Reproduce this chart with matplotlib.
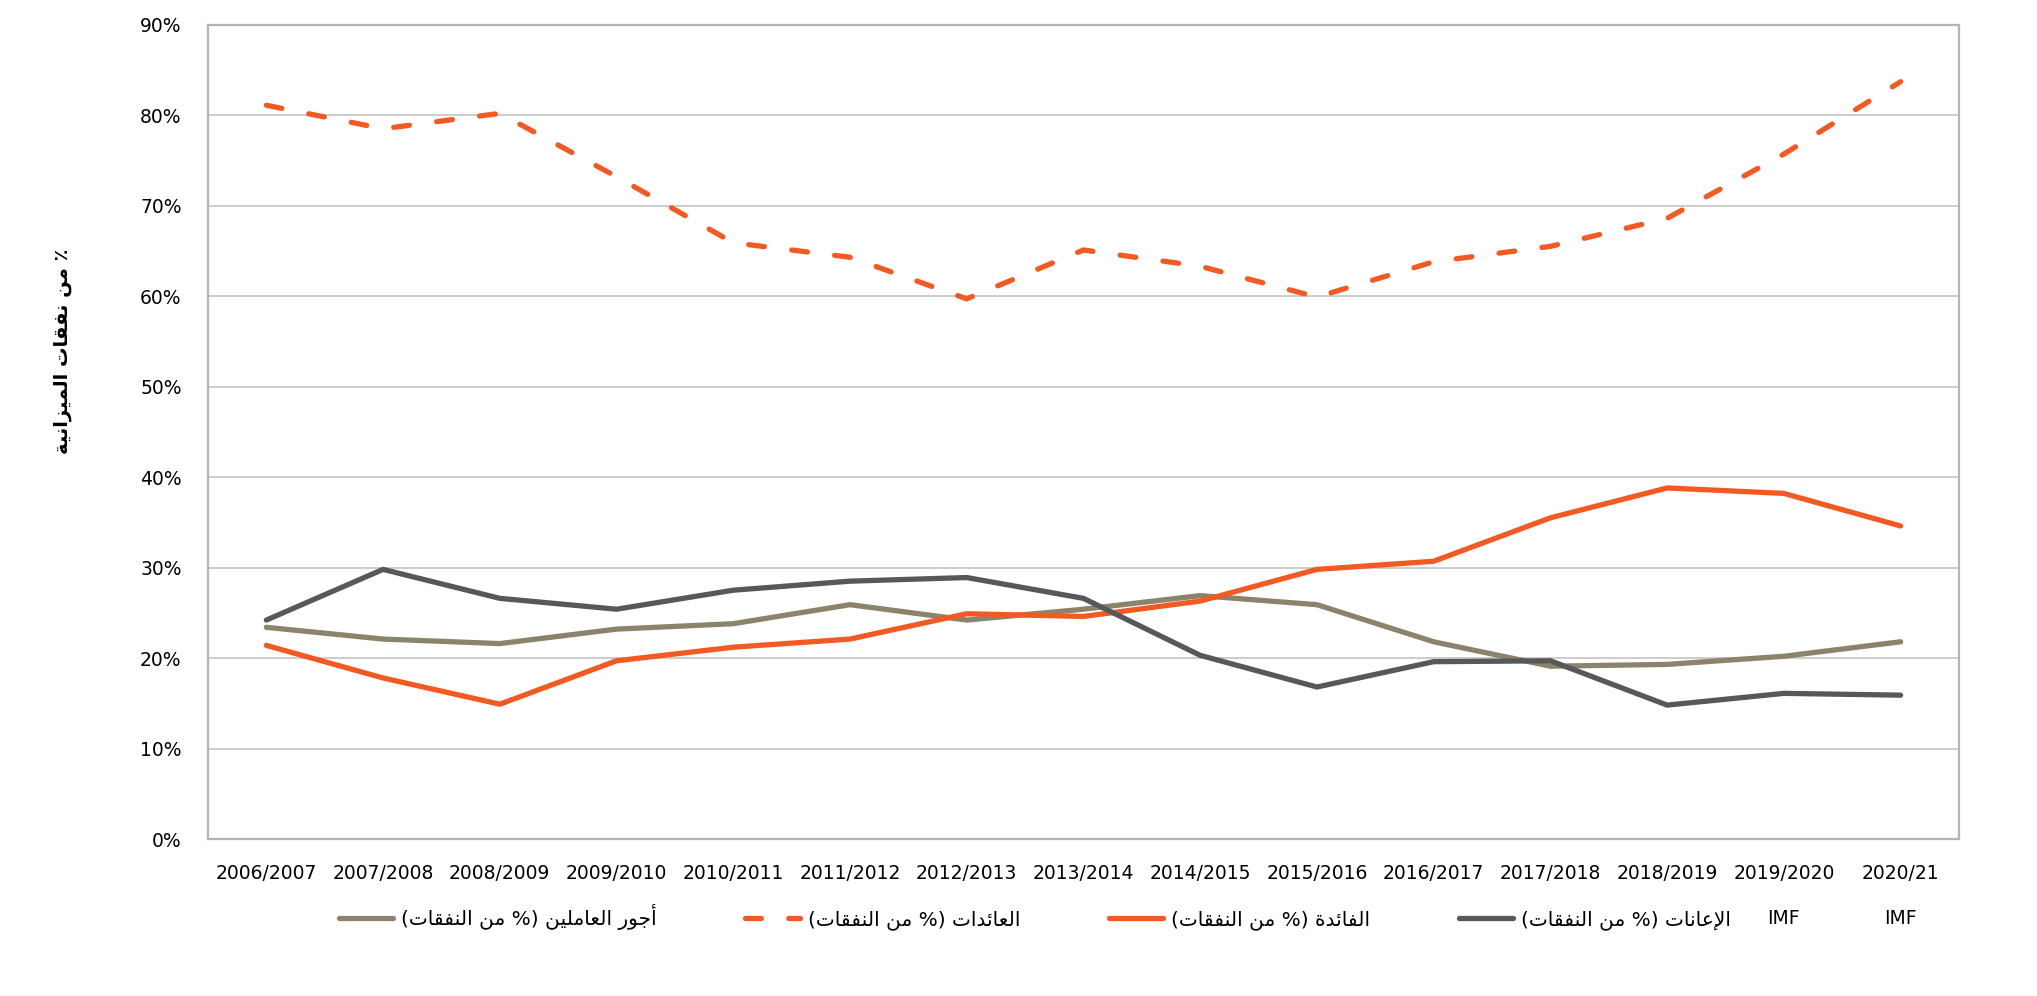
import matplotlib
matplotlib.use('Agg')
import matplotlib.pyplot as plt
import numpy as np

years = ['2006/2007', '2007/2008', '2008/2009', '2009/2010', '2010/2011',
         '2011/2012', '2012/2013', '2013/2014', '2014/2015', '2015/2016',
         '2016/2017', '2017/2018', '2018/2019', '2019/2020', '2020/21']
imf_years = ['2019/2020', '2020/21']

wages = [23.4, 22.1, 21.6, 23.2, 23.8, 25.9, 24.2, 25.4, 26.9, 25.9,
         21.8, 19.1, 19.3, 20.2, 21.8]
revenue = [81.1, 78.5, 80.2, 73.2, 65.9, 64.3, 59.7, 65.1, 63.3, 59.9,
           63.8, 65.5, 68.6, 75.7, 83.7]
interest = [21.4, 17.8, 14.9, 19.7, 21.2, 22.1, 24.9, 24.6, 26.3, 29.8,
            30.7, 35.5, 38.8, 38.2, 34.6]
subsidies = [24.2, 29.8, 26.6, 25.4, 27.5, 28.5, 28.9, 26.6, 20.3, 16.8,
             19.6, 19.7, 14.8, 16.1, 15.9]

labels = ['أجور العاملين (% من النفقات)', 'العائدات (% من النفقات)',
          'الفائدة (% من النفقات)', 'الإعانات (% من النفقات)']
ylabel = '٪ من نفقات الميزانية'

ORANGE = '#F15A22'
OLIVE = '#8B836C'
DARK = '#58585A'


# matplotlib has no arabic shaping, so pick presentation forms by hand
RIGHT_JOIN = {0x0622: 0xFE81, 0x0623: 0xFE83, 0x0624: 0xFE85, 0x0625: 0xFE87,
              0x0627: 0xFE8D, 0x0629: 0xFE93, 0x062F: 0xFEA9, 0x0630: 0xFEAB,
              0x0631: 0xFEAD, 0x0632: 0xFEAF, 0x0648: 0xFEED, 0x0649: 0xFEEF}
DUAL_JOIN = {0x0626: 0xFE89, 0x0628: 0xFE8F, 0x062A: 0xFE95, 0x062B: 0xFE99,
             0x062C: 0xFE9D, 0x062D: 0xFEA1, 0x062E: 0xFEA5, 0x0633: 0xFEB1,
             0x0634: 0xFEB5, 0x0635: 0xFEB9, 0x0636: 0xFEBD, 0x0637: 0xFEC1,
             0x0638: 0xFEC5, 0x0639: 0xFEC9, 0x063A: 0xFECD, 0x0641: 0xFED1,
             0x0642: 0xFED5, 0x0643: 0xFED9, 0x0644: 0xFEDD, 0x0645: 0xFEE1,
             0x0646: 0xFEE5, 0x0647: 0xFEE9, 0x064A: 0xFEF1}
LAM_ALEF = {0x0622: 0xFEF5, 0x0623: 0xFEF7, 0x0625: 0xFEF9, 0x0627: 0xFEFB}
MIRROR = {'(': ')', ')': '(', '[': ']', ']': '['}


def shape_arabic(text):
    units = []
    i = 0
    while i < len(text):
        c = ord(text[i])
        nxt = ord(text[i + 1]) if i + 1 < len(text) else None
        if c == 0x0644 and nxt in LAM_ALEF:
            units.append(('R', LAM_ALEF[nxt]))
            i += 2
            continue
        if c in DUAL_JOIN:
            units.append(('D', DUAL_JOIN[c]))
        elif c in RIGHT_JOIN:
            units.append(('R', RIGHT_JOIN[c]))
        else:
            units.append((None, text[i]))
        i += 1

    out = []
    for j, (kind, base) in enumerate(units):
        if kind is None:
            out.append(MIRROR.get(base, base))
            continue
        prev_kind = units[j - 1][0] if j > 0 else None
        next_kind = units[j + 1][0] if j + 1 < len(units) else None
        join_prev = prev_kind == 'D'
        join_next = kind == 'D' and next_kind in ('D', 'R')
        if join_prev and join_next:
            off = 3
        elif join_next:
            off = 2
        elif join_prev:
            off = 1
        else:
            off = 0
        out.append(chr(base + off))
    return ''.join(reversed(out))


plt.rcParams['font.family'] = ['DejaVu Sans']

fig = plt.figure(figsize=(20.37, 9.96), dpi=100)
ax = fig.add_axes([0.1021, 0.1576, 0.8596, 0.8176])

x = np.arange(len(years))
lw = 3.8
ax.plot(x, wages, color=OLIVE, lw=lw, solid_capstyle='round',
        label=shape_arabic(labels[0]))
ax.plot(x, revenue, color=ORANGE, lw=lw, dashes=(3, 5.2),
        dash_capstyle='round', label=shape_arabic(labels[1]))
ax.plot(x, interest, color=ORANGE, lw=lw, solid_capstyle='round',
        label=shape_arabic(labels[2]))
ax.plot(x, subsidies, color=DARK, lw=lw, solid_capstyle='round',
        label=shape_arabic(labels[3]))

ax.set_xlim(-0.5, len(years) - 0.5)
ax.set_ylim(0, 90)
ax.set_yticks(np.arange(0, 91, 10))
ax.set_yticklabels(['{}%'.format(v) for v in range(0, 91, 10)], fontsize=13.5)
ax.set_xticks(x)
ax.set_xticklabels(years, fontsize=13.5)
ax.tick_params(axis='x', length=0, pad=18)
ax.tick_params(axis='y', length=0, pad=19)
ax.grid(axis='y', color='#BFBFBF', lw=1.1)
ax.set_axisbelow(True)
for s in ax.spines.values():
    s.set_color('#B5B5B5')
    s.set_linewidth(1.6)

for yr in imf_years:
    ax.text(years.index(yr), -0.097, 'IMF', transform=ax.get_xaxis_transform(),
            ha='center', va='center', fontsize=13.5)

fig.text(62 / 2037, 1 - 351 / 996, shape_arabic(ylabel), rotation=90,
         ha='center', va='center', fontsize=14, fontweight='bold')

fig.legend(loc='center', bbox_to_anchor=(0.508, 0.079), ncol=4, frameon=False,
           fontsize=14.5, handlelength=2.7, handletextpad=0.4, columnspacing=4.4)

fig.savefig('out.png', dpi=100)
